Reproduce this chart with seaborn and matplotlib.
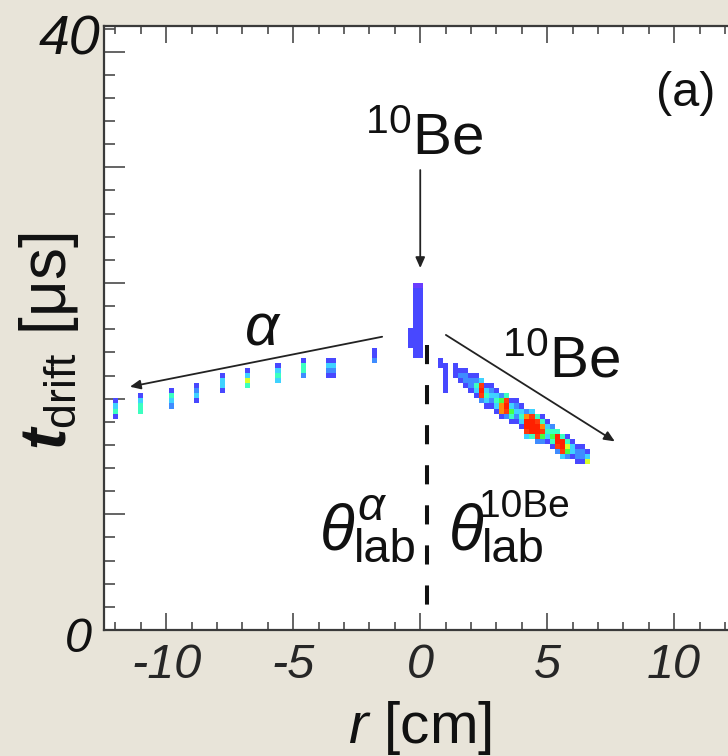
import numpy as np
import matplotlib
matplotlib.use("Agg")
import matplotlib.pyplot as plt
from matplotlib.colors import ListedColormap
from matplotlib.ticker import MultipleLocator, NullFormatter
import seaborn as sns

sns.set_style("ticks")
plt.rcParams["font.family"] = ["Liberation Sans", "DejaVu Sans"]
plt.rcParams["mathtext.fontset"] = "custom"
plt.rcParams["mathtext.rm"] = "Liberation Sans"
plt.rcParams["mathtext.it"] = "Liberation Sans:italic"
plt.rcParams["mathtext.bf"] = "Liberation Sans:bold"
plt.rcParams["mathtext.bfit"] = "Liberation Sans:italic:bold"
plt.rcParams["axes.unicode_minus"] = False

# ---------------------------------------------------------------------------
# Hit map of one event: pad column r [cm], lowest drift-time bin edge [us],
# and the counts of the consecutive drift-time bins going upwards.
# ---------------------------------------------------------------------------

# alpha track (left side)
alpha_r = [-12.0, -11.0, -9.8, -8.8, -7.8, -6.8, -5.6, -4.6, -3.6, -3.4, -1.8]
alpha_t0 = [14.0, 14.33, 14.67, 15.0, 15.67, 16.0, 16.33, 16.67, 16.67, 16.67, 17.67]
alpha_counts = [
    [2, 5, 4, 2],
    [5, 5, 4, 2],
    [3, 4, 5, 2],
    [2, 4, 3, 2],
    [2, 4, 4, 2],
    [5, 7, 4, 2],
    [4, 5, 4, 2],
    [3, 5, 5, 2],
    [2, 3, 4, 2],
    [2, 3, 4, 2],
    [3, 2, 2],
]

# 10Be close to the beam axis
spot_r = [-0.4, -0.2, 0.0, 0.8, 1.0]
spot_t0 = [18.67, 18.0, 18.0, 17.33, 15.67]
spot_counts = [
    [2, 2, 2, 2],
    [2, 2, 2, 2, 2, 2, 2, 2, 2, 2, 2, 2, 2, 2, 1],
    [2, 2, 2, 2, 2, 2, 2, 2, 2, 2, 2, 2, 2, 2, 1],
    [2, 2],
    [2, 2, 2, 2, 2, 2],
]

# scattered 10Be track (right side)
be_r = [1.4, 1.6, 1.8, 2.0, 2.2, 2.4, 2.6, 2.8, 3.0, 3.2, 3.4, 3.6, 3.8, 4.0,
        4.2, 4.4, 4.6, 4.8, 5.0, 5.2, 5.4, 5.6, 5.8, 6.0, 6.2, 6.4, 6.6]
be_t0 = [16.67, 16.33, 16.0, 15.67, 15.33, 15.0, 14.67, 14.67, 14.33, 14.0,
         14.0, 13.67, 13.67, 13.33, 12.67, 12.67, 12.33, 12.33, 12.33, 12.0,
         11.67, 11.33, 11.33, 11.33, 11.0, 11.0, 11.0]
be_counts = [
    [2, 2, 2],
    [2, 3, 2],
    [2, 3, 3, 2],
    [2, 3, 3, 2],
    [2, 4, 5, 3, 2],
    [3, 9, 10, 9, 4],
    [2, 4, 5, 4, 2],
    [2, 3, 4, 3, 2],
    [2, 4, 5, 4, 2],
    [2, 8, 8, 6, 3],
    [3, 9, 10, 9, 5],
    [2, 5, 6, 4, 2],
    [2, 3, 4, 3, 2],
    [2, 4, 5, 4, 2],
    [4, 9, 10, 10, 8, 3],
    [5, 10, 10, 10, 9, 4],
    [3, 9, 10, 10, 9, 5],
    [3, 6, 9, 8, 5, 2],
    [2, 4, 5, 4, 2],
    [2, 5, 6, 5, 3],
    [3, 9, 10, 10, 5],
    [4, 9, 10, 10, 5],
    [3, 6, 7, 5, 2],
    [2, 4, 4, 2],
    [2, 3, 3, 2],
    [2, 3, 3, 2],
    [7, 4, 2],
]

# pad / time-bucket binning of the map
DR = 0.2
DT = 1.0 / 3.0
r_edges = np.arange(-12.5, 12.5 + DR / 2, DR)
t_edges = np.arange(0.0, 40.0 + DT / 2, DT)

cell_r, cell_t, cell_n = [], [], []
for rs, t0s, cols in [(alpha_r, alpha_t0, alpha_counts),
                      (spot_r, spot_t0, spot_counts),
                      (be_r, be_t0, be_counts)]:
    for r, t0, col in zip(rs, t0s, cols):
        for i, n in enumerate(col):
            cell_r.append(r)
            cell_t.append(t0 + (i + 0.5) * DT)
            cell_n.append(n)

# rainbow palette, one colour per count
palette = ListedColormap([
    "#6a3dff", "#4848ff", "#3f8cff", "#3fd2ff", "#3cffc0",
    "#46ff46", "#d8ff2a", "#ff8c0a", "#ff3a0c", "#ff2000",
])

BG = "#e8e4d9"
INK = "#111111"

fig = plt.figure(figsize=(7.28, 7.56), dpi=100)
fig.patch.set_facecolor(BG)
ax = fig.add_axes([0.1429, 0.1667, 0.8687, 0.7989])
ax.set_facecolor("white")

sns.histplot(x=cell_r, y=cell_t, weights=cell_n, bins=[r_edges, t_edges],
             cmap=palette, vmin=0.5, vmax=10.5, ax=ax)

ax.set_xlim(-12.45, 12.45)
ax.set_ylim(0, 40)

# axes frame and ticks
for side in ["left", "right", "top", "bottom"]:
    ax.spines[side].set_color("#3a3a3a")
    ax.spines[side].set_linewidth(1.6)
ax.xaxis.set_major_locator(MultipleLocator(5))
ax.xaxis.set_minor_locator(MultipleLocator(1))
ax.yaxis.set_major_locator(MultipleLocator(7.66))
ax.yaxis.set_minor_locator(MultipleLocator(1.532))
ax.yaxis.set_major_formatter(NullFormatter())
ax.tick_params(axis="x", which="both", direction="in", top=True, bottom=True,
               color="#4a4a4a", width=1.2, labelsize=35, pad=9.5)
ax.tick_params(axis="x", which="major", length=12)
ax.tick_params(axis="x", which="minor", length=6)
ax.tick_params(axis="y", which="both", direction="in", left=True, right=False,
               color="#4a4a4a", width=1.2)
ax.tick_params(axis="y", which="major", length=15)
ax.tick_params(axis="y", which="minor", length=8)
for lab in ax.get_xticklabels():
    lab.set_fontstyle("italic")

# drift-time end labels
ax.text(-0.005, 38.08, "40", transform=ax.get_yaxis_transform(),
        fontsize=40, style="italic", ha="right", va="baseline", color=INK)
ax.text(-0.019, -1.46, "0", transform=ax.get_yaxis_transform(),
        fontsize=35, style="italic", ha="right", va="baseline", color=INK,
        clip_on=False)

ax.set_xlabel(r"$r$ [cm]", fontsize=42, va="baseline", color=INK)
ax.xaxis.set_label_coords(0.5, -0.187)
ax.set_ylabel(r"$\mathbfit{t}_{\mathrm{drift}}$ [μs]", fontsize=46,
              va="baseline", color=INK)
ax.yaxis.set_label_coords(-0.060, 0.4776)

# panel tag
ax.text(10.47, 35.56, "(a)", fontsize=35, ha="center", va="center", color=INK)

# particle labels and arrows
arrow = dict(arrowstyle="-|>,head_length=0.45,head_width=0.2",
             mutation_scale=14, lw=1.3, color="#222222",
             shrinkA=0, shrinkB=0)
ax.text(0.14, 31.46, r"$^{10}$Be", fontsize=42, ha="center",
        va="baseline", color=INK)
ax.annotate("", xy=(0.0, 23.97), xytext=(0.0, 30.46), arrowprops=arrow)

ax.text(-6.22, 18.87, "α", fontsize=43, style="italic", ha="center",
        va="baseline", color=INK)
ax.annotate("", xy=(-11.43, 16.11), xytext=(-1.50, 19.42), arrowprops=arrow)

ax.text(5.55, 16.69, r"$^{10}$Be", fontsize=42, ha="center",
        va="baseline", color=INK)
ax.annotate("", xy=(7.66, 12.49), xytext=(1.01, 19.54), arrowprops=arrow)

# beam axis
ax.plot([0.25, 0.25], [18.9, 1.66], color=INK, lw=2.9,
        linestyle=(0, (4.75, 5.2)), solid_capstyle="butt")

# emission-angle labels
ax.text(-3.95, 5.3, "θ", fontsize=46, style="italic", ha="left",
        va="baseline", color=INK)
ax.text(-2.60, 4.52, "lab", fontsize=34, ha="left", va="baseline", color=INK)
ax.text(-2.48, 7.28, "α", fontsize=34, style="italic", ha="left",
        va="baseline", color=INK)
ax.text(1.14, 5.3, "θ", fontsize=46, style="italic", ha="left",
        va="baseline", color=INK)
ax.text(2.44, 4.52, "lab", fontsize=34, ha="left", va="baseline", color=INK)
ax.text(2.32, 7.5, "10Be", fontsize=28, ha="left", va="baseline", color=INK)

fig.savefig("out.png", dpi=100, facecolor=BG)
